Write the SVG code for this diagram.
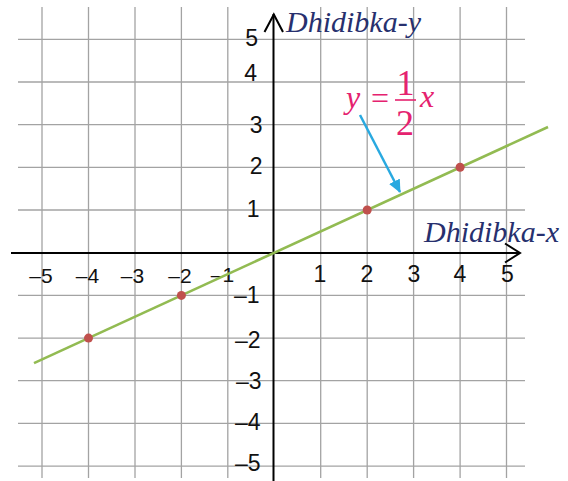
<svg xmlns="http://www.w3.org/2000/svg" width="568" height="481" viewBox="0 0 568 481">
<style>
.grid line{stroke:#a3a3a3;stroke-width:1.3}
.axis{stroke:#000;stroke-width:2;fill:none}
.lbl{font-family:"Liberation Sans",Arial,sans-serif;font-size:23px;fill:#111}
.nx{text-anchor:middle;font-size:21px}
.px{text-anchor:middle}
.ny{text-anchor:end}
.title{font-family:"Liberation Serif","Times New Roman",serif;font-style:italic;font-size:30px;fill:#27306e}
.eq{font-family:"Liberation Serif","Times New Roman",serif;fill:#e5226f}
.pt{fill:#c0504d}
</style>
<defs>
<marker id="blueHead" markerWidth="14" markerHeight="12" refX="12" refY="6" orient="auto" markerUnits="userSpaceOnUse">
<path d="M0,0 L13,6 L0,12 Z" fill="#29a9e0"/>
</marker>
</defs>
<rect width="568" height="481" fill="#fff"/>
<g class="grid" id="grid">
<line x1="42" y1="7" x2="42" y2="478"/>
<line x1="88.5" y1="7" x2="88.5" y2="478"/>
<line x1="135" y1="7" x2="135" y2="478"/>
<line x1="181.4" y1="7" x2="181.4" y2="478"/>
<line x1="227.8" y1="7" x2="227.8" y2="478"/>
<line x1="320.7" y1="7" x2="320.7" y2="478"/>
<line x1="367.2" y1="7" x2="367.2" y2="478"/>
<line x1="413.6" y1="7" x2="413.6" y2="478"/>
<line x1="460.1" y1="7" x2="460.1" y2="478"/>
<line x1="506.5" y1="7" x2="506.5" y2="478"/>
<line x1="18" y1="39.3" x2="525" y2="39.3"/>
<line x1="18" y1="82" x2="525" y2="82"/>
<line x1="18" y1="124.7" x2="525" y2="124.7"/>
<line x1="18" y1="167.3" x2="525" y2="167.3"/>
<line x1="18" y1="210" x2="525" y2="210"/>
<line x1="18" y1="295.4" x2="525" y2="295.4"/>
<line x1="18" y1="338.1" x2="525" y2="338.1"/>
<line x1="18" y1="380.7" x2="525" y2="380.7"/>
<line x1="18" y1="423.4" x2="525" y2="423.4"/>
<line x1="18" y1="466.1" x2="525" y2="466.1"/>
</g>
<g id="axes">
<line class="axis" x1="11" y1="253" x2="520" y2="253"/>
<polyline class="axis" points="505,243.5 520,253 505,262.5"/>
<line class="axis" x1="273.5" y1="14" x2="273.5" y2="481"/>
<polyline class="axis" points="264.5,32 273.8,14.5 283,32"/>
</g>
<g id="x-labels" class="lbl">
<text class="nx" x="41" y="283">–5</text>
<text class="nx" x="87.5" y="283">–4</text>
<text class="nx" x="132.5" y="283">–3</text>
<text class="nx" x="180" y="283">–2</text>
<text class="nx" x="222.5" y="282">–1</text>
<text class="px" x="320" y="282">1</text>
<text class="px" x="367" y="282">2</text>
<text class="px" x="414" y="282">3</text>
<text class="px" x="460" y="282">4</text>
<text class="px" x="507.5" y="282">5</text>
</g>
<g id="y-labels" class="lbl">
<text class="ny" x="258" y="46">5</text>
<text class="ny" x="257" y="81">4</text>
<text class="ny" x="262.5" y="133">3</text>
<text class="ny" x="262.5" y="173.5">2</text>
<text class="ny" x="259.5" y="216.5">1</text>
<text class="ny" x="259.5" y="303">–1</text>
<text class="ny" x="260.5" y="348">–2</text>
<text class="ny" x="261.5" y="388.5">–3</text>
<text class="ny" x="260.5" y="430">–4</text>
<text class="ny" x="260.5" y="470.5">–5</text>
</g>
<g id="axis-titles">
<text class="title" x="286" y="32">Dhidibka-y</text>
<text class="title" x="424" y="242">Dhidibka-x</text>
</g>
<g id="connectors">
<line x1="34" y1="363.1" x2="548" y2="127" stroke="#92bb52" stroke-width="2.6"/>
<line x1="360" y1="115" x2="400" y2="192" stroke="#29a9e0" stroke-width="2.5" marker-end="url(#blueHead)"/>
</g>
<g id="points">
<circle class="pt" cx="88.5" cy="338.1" r="4.5"/>
<circle class="pt" cx="181.4" cy="295.4" r="4.5"/>
<circle class="pt" cx="367.2" cy="210" r="4.5"/>
<circle class="pt" cx="460.1" cy="167.3" r="4.5"/>
</g>
<g id="equation" class="eq">
<text x="346" y="108" font-size="32" font-style="italic">y</text>
<text x="380" y="109" font-size="32" text-anchor="middle">=</text>
<text x="405.5" y="95" font-size="36" text-anchor="middle">1</text>
<line x1="395" y1="100" x2="416" y2="100" stroke="#e5226f" stroke-width="1.6"/>
<text x="405" y="135" font-size="36" text-anchor="middle">2</text>
<text x="420" y="107" font-size="32" font-style="italic">x</text>
</g>
</svg>
